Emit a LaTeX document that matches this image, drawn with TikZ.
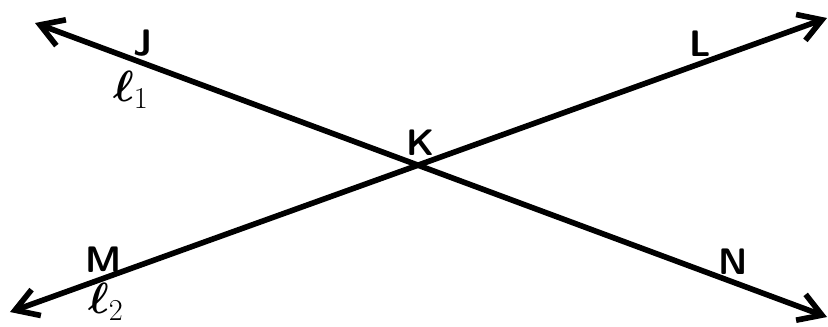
\documentclass[tikz,border=0pt]{standalone}
\usepackage{amsmath,amssymb,bm}
\usetikzlibrary{arrows.meta}
\tikzset{
  barb/.tip={Straight Barb[length=4.5mm,width=5.5mm,line width=3.2pt]},
  ray/.style={line width=3.2pt,{barb}-{barb}},
  ptlabel/.style={font=\fontsize{21}{21}\selectfont\sffamily\bfseries,inner sep=0pt},
  linelabel/.style={font=\fontsize{25}{25}\selectfont,inner sep=0pt},
}

\begin{document}
\begin{tikzpicture}[x=0.02cm,y=-0.02cm]
  \useasboundingbox (0,0) rectangle (828,326);
  % ends of the two lines
  \coordinate (l1a) at (35,23);
  \coordinate (l1b) at (827,317);
  \coordinate (l2a) at (10,312);
  \coordinate (l2b) at (827,18);
  \coordinate (K) at (intersection of l1a--l1b and l2a--l2b);

  \draw[ray] (l1a) -- (l1b);
  \draw[ray] (l2a) -- (l2b);

  % point and line labels
  \node[ptlabel] (labJ) at (143,43) {J};
  \node[ptlabel] (labK) at (421,143) {K};
  \node[ptlabel] (labL) at (700,44) {L};
  \node[ptlabel] (labM) at (104,260) {M};
  \node[ptlabel] (labN) at (733,262) {N};
  \node[linelabel] (lab1) at (131,90) {$\bm{\ell}_1$};
  \node[linelabel] (lab2) at (106,302) {$\bm{\ell}_2$};
\end{tikzpicture}
\end{document}
